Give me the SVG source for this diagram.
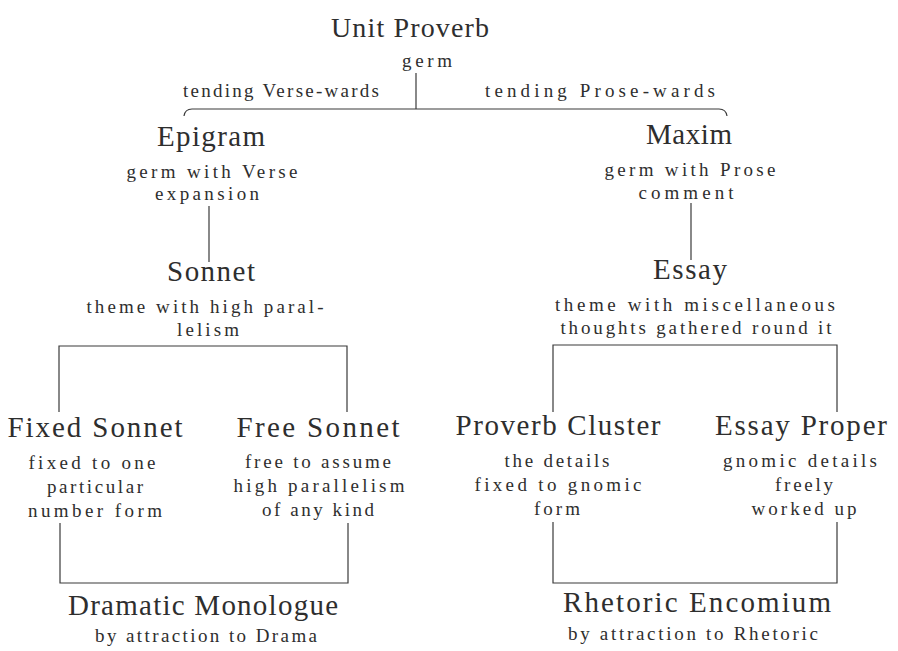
<svg xmlns="http://www.w3.org/2000/svg" width="898" height="651" viewBox="0 0 898 651">
<style>
text{font-family:"Liberation Serif","Times New Roman",serif;fill:#2e2e2e;text-anchor:middle}
.h{font-size:29px}
.s{font-size:19px}
.c{fill:none;stroke:#3a3a3a;stroke-width:1.2}
</style>
<rect width="898" height="651" fill="#fff"/>
<g id="connectors">
<path class="c" d="M416,73 L416,109"/>
<path class="c" d="M184,116 Q185,109 192,109 L719,109 Q726,109 727,116"/>
<path class="c" d="M209,206 L209,262"/>
<path class="c" d="M691,203 L691,260"/>
<path class="c" d="M59,412 L59,346 L347,346 L347,412"/>
<path class="c" d="M553,412 L553,345 L837,345 L837,412"/>
<path class="c" d="M60,523 L60,583 L348,583 L348,523"/>
<path class="c" d="M553,522 L553,583 L837,583 L837,522"/>
</g>
<g id="unit-proverb">
<text class="h" x="410" y="37" textLength="158" lengthAdjust="spacing" style="font-size:28px">Unit Proverb</text>
<text class="s" x="427" y="67" textLength="50" lengthAdjust="spacing">germ</text>
</g>
<g id="branch-labels">
<text class="s" x="281" y="97" textLength="196" lengthAdjust="spacing">tending Verse-wards</text>
<text class="s" x="600" y="97" textLength="230" lengthAdjust="spacing">tending Prose-wards</text>
</g>
<g id="epigram">
<text class="h" x="211" y="146" textLength="108" lengthAdjust="spacing">Epigram</text>
<text class="s" x="212" y="178" textLength="171" lengthAdjust="spacing">germ with Verse</text>
<text class="s" x="207" y="200" textLength="104" lengthAdjust="spacing">expansion</text>
</g>
<g id="maxim">
<text class="h" x="689" y="144" textLength="86" lengthAdjust="spacing">Maxim</text>
<text class="s" x="690" y="176" textLength="171" lengthAdjust="spacing">germ with Prose</text>
<text class="s" x="686" y="199" textLength="95" lengthAdjust="spacing">comment</text>
</g>
<g id="sonnet">
<text class="h" x="211" y="281" textLength="88" lengthAdjust="spacing">Sonnet</text>
<text class="s" x="205" y="313" textLength="237" lengthAdjust="spacing">theme with high paral-</text>
<text class="s" x="208" y="336" textLength="62" lengthAdjust="spacing">lelism</text>
</g>
<g id="essay">
<text class="h" x="690" y="279" textLength="74" lengthAdjust="spacing">Essay</text>
<text class="s" x="695" y="311" textLength="280" lengthAdjust="spacing">theme with  miscellaneous</text>
<text class="s" x="696" y="334" textLength="271" lengthAdjust="spacing">thoughts gathered round it</text>
</g>
<g id="fixed-sonnet">
<text class="h" x="95" y="437" textLength="175" lengthAdjust="spacing">Fixed Sonnet</text>
<text class="s" x="92" y="469" textLength="127" lengthAdjust="spacing">fixed to one</text>
<text class="s" x="95" y="493" textLength="96" lengthAdjust="spacing">particular</text>
<text class="s" x="95" y="517" textLength="134" lengthAdjust="spacing">number form</text>
</g>
<g id="free-sonnet">
<text class="h" x="318" y="437" textLength="163" lengthAdjust="spacing">Free Sonnet</text>
<text class="s" x="318" y="468" textLength="146" lengthAdjust="spacing">free to assume</text>
<text class="s" x="319" y="492" textLength="171" lengthAdjust="spacing">high parallelism</text>
<text class="s" x="318" y="516" textLength="112" lengthAdjust="spacing">of any kind</text>
</g>
<g id="proverb-cluster">
<text class="h" x="558" y="435" textLength="205" lengthAdjust="spacing">Proverb Cluster</text>
<text class="s" x="557" y="467" textLength="105" lengthAdjust="spacing">the details</text>
<text class="s" x="558" y="491" textLength="167" lengthAdjust="spacing">fixed to gnomic</text>
<text class="s" x="557" y="515" textLength="46" lengthAdjust="spacing">form</text>
</g>
<g id="essay-proper">
<text class="h" x="801" y="435" textLength="172" lengthAdjust="spacing">Essay Proper</text>
<text class="s" x="800" y="467" textLength="154" lengthAdjust="spacing">gnomic details</text>
<text class="s" x="804" y="491" textLength="58" lengthAdjust="spacing">freely</text>
<text class="s" x="804" y="515" textLength="105" lengthAdjust="spacing">worked up</text>
</g>
<g id="dramatic-monologue">
<text class="h" x="203" y="615" textLength="270" lengthAdjust="spacing">Dramatic Monologue</text>
<text class="s" x="206" y="642" textLength="222" lengthAdjust="spacing">by attraction to Drama</text>
</g>
<g id="rhetoric-encomium">
<text class="h" x="697" y="612" textLength="268" lengthAdjust="spacing">Rhetoric Encomium</text>
<text class="s" x="693" y="640" textLength="250" lengthAdjust="spacing">by attraction to Rhetoric</text>
</g>
</svg>
